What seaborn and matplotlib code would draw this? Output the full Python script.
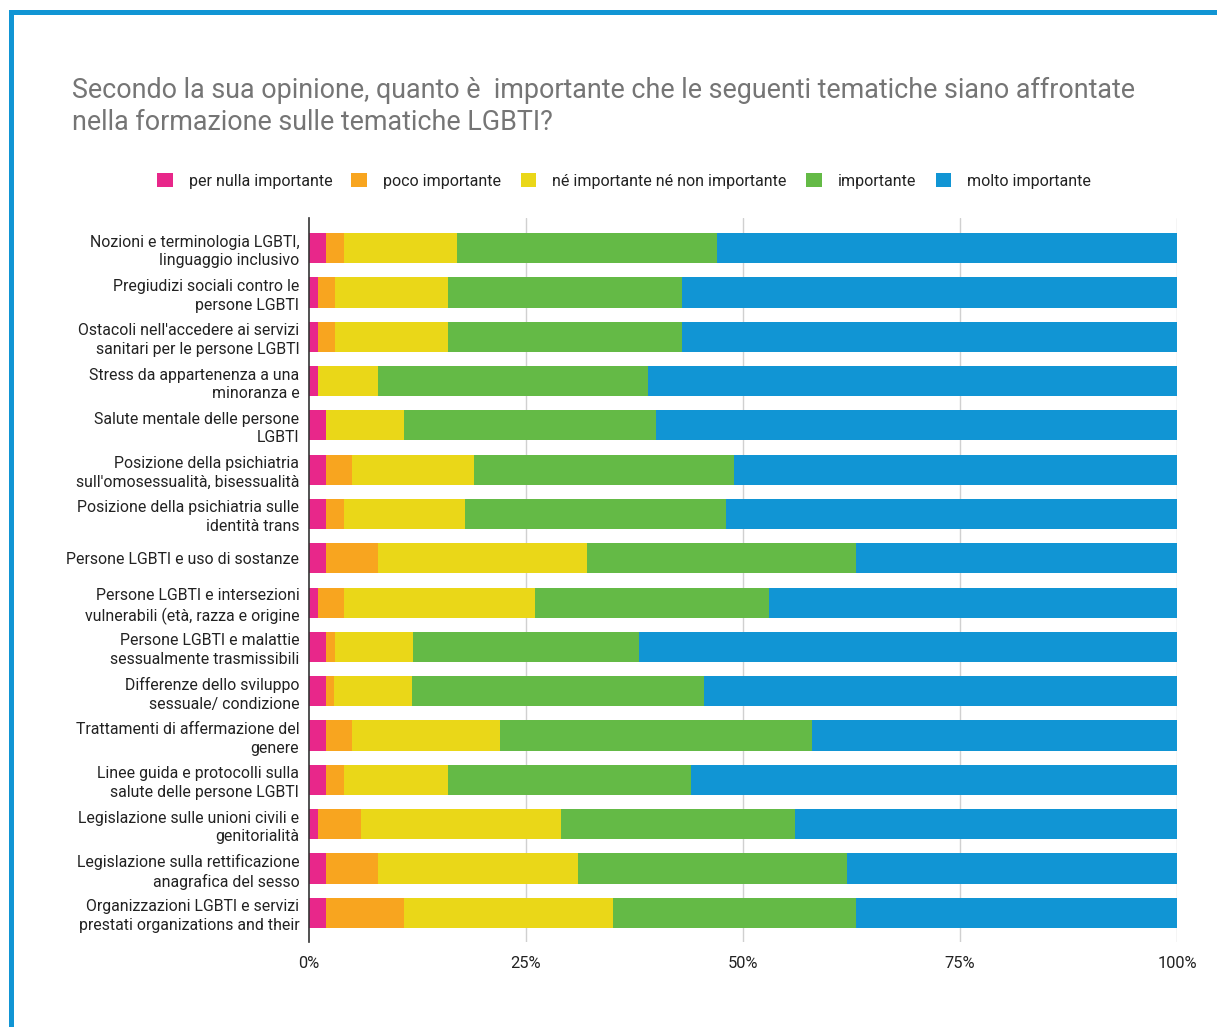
import matplotlib
matplotlib.use("Agg")
import matplotlib.pyplot as plt
from matplotlib.patches import Patch, Rectangle
import seaborn as sns
import pandas as pd
import numpy as np

categories = [
    "Nozioni e terminologia LGBTI,\nlinguaggio inclusivo",
    "Pregiudizi sociali contro le\npersone LGBTI",
    "Ostacoli nell'accedere ai servizi\nsanitari per le persone LGBTI",
    "Stress da appartenenza a una\nminoranza e",
    "Salute mentale delle persone\nLGBTI",
    "Posizione della psichiatria\nsull'omosessualità, bisessualità",
    "Posizione della psichiatria sulle\nidentità trans",
    "Persone LGBTI e uso di sostanze",
    "Persone LGBTI e intersezioni\nvulnerabili (età, razza e origine",
    "Persone LGBTI e malattie\nsessualmente trasmissibili",
    "Differenze dello sviluppo\nsessuale/ condizione",
    "Trattamenti di affermazione del\ngenere",
    "Linee guida e protocolli sulla\nsalute delle persone LGBTI",
    "Legislazione sulle unioni civili e\ngenitorialità",
    "Legislazione sulla rettificazione\nanagrafica del sesso",
    "Organizzazioni LGBTI e servizi\nprestati organizations and their",
]

series_names = ["per nulla importante", "poco importante",
                "né importante né non importante", "importante", "molto importante"]

per_nulla = [2, 1, 1, 1, 2, 2, 2, 2, 1, 2, 2, 2, 2, 1, 2, 2]
poco = [2, 2, 2, 0, 0, 3, 2, 6, 3, 1, 0.9, 3, 2, 5, 6, 9]
neutro = [13, 13, 13, 7, 9, 14, 14, 24, 22, 9, 9, 17, 12, 23, 23, 24]
importante = [30, 27, 27, 31, 29, 30, 30, 31, 27, 26, 33.6, 36, 28, 27, 31, 28]
molto = [53, 57, 57, 61, 60, 51, 52, 37, 47, 62, 54.5, 42, 56, 44, 38, 37]

colors = ["#E8278A", "#F8A51F", "#EAD718", "#64BA46", "#1195D4"]

xticks = [0, 25, 50, 75, 100]
xticklabels = ["0%", "25%", "50%", "75%", "100%"]

title_lines = ["Secondo la sua opinione, quanto è  importante che le seguenti tematiche siano affrontate",
               "nella formazione sulle tematiche LGBTI?"]

# ---- build data ----
vals = np.array([per_nulla, poco, neutro, importante, molto], dtype=float)
vals = vals / vals.sum(axis=0) * 100
cum = np.cumsum(vals, axis=0)

sns.set_theme(style="white")
plt.rcParams['font.family'] = ['Roboto', 'DejaVu Sans']

fig = plt.figure(figsize=(12.17, 10.27), dpi=100)
ax = fig.add_axes([309/1217, 1-942/1027, (1177-309)/1217, (942-218)/1027])

for i in range(4, -1, -1):
    df = pd.DataFrame({"cat": categories, "val": cum[i]})
    sns.barplot(data=df, y="cat", x="val", orient="h", color=colors[i],
                width=0.68, saturation=1, ax=ax, zorder=2, linewidth=0)

ax.set_xlim(0, 100)
ax.set_ylim(15.66, -0.68)
ax.set_xticks(xticks)
ax.set_xticklabels(xticklabels, fontsize=11.8, color="#222222")
ax.tick_params(axis="x", length=0, pad=10)
ax.tick_params(axis="y", length=0, pad=7)
for lab in ax.get_yticklabels():
    lab.set_fontsize(11.4)
    lab.set_color("#222222")
    lab.set_horizontalalignment("right")
    lab.set_linespacing(1.3)
ax.set_xlabel("")
ax.set_ylabel("")
for x in xticks[1:]:
    ax.axvline(x, color="#D0D0D0", linewidth=1, zorder=0)
for s in ["top", "right", "bottom"]:
    ax.spines[s].set_visible(False)
ax.spines["left"].set_color("#333333")
ax.spines["left"].set_linewidth(1.2)
ax.spines["left"].set_zorder(3)

for k, (line, yy) in enumerate(zip(title_lines, [90, 122])):
    fig.text(72/1217, 1-yy/1027, line, fontsize=19.4, color="#757575",
             ha="left", va="center")

handles = [Patch(facecolor=c, edgecolor="none") for c in colors]
fig.legend(handles, series_names, loc="center", ncol=5,
           bbox_to_anchor=(624/1217, 1-181/1027), frameon=False,
           fontsize=11.5, handlelength=1.0, handleheight=1.0,
           handletextpad=1.0, columnspacing=1.2, labelcolor="#222222")

# blue frame
fig.patches.append(Rectangle((9/1217, 1-15/1027), 1, 5/1027, transform=fig.transFigure,
                             facecolor="#1195D4", edgecolor="none", figure=fig))
fig.patches.append(Rectangle((9/1217, 0), 5/1217, 1-10/1027, transform=fig.transFigure,
                             facecolor="#1195D4", edgecolor="none", figure=fig))

fig.savefig("out.png", dpi=100, facecolor="white")
